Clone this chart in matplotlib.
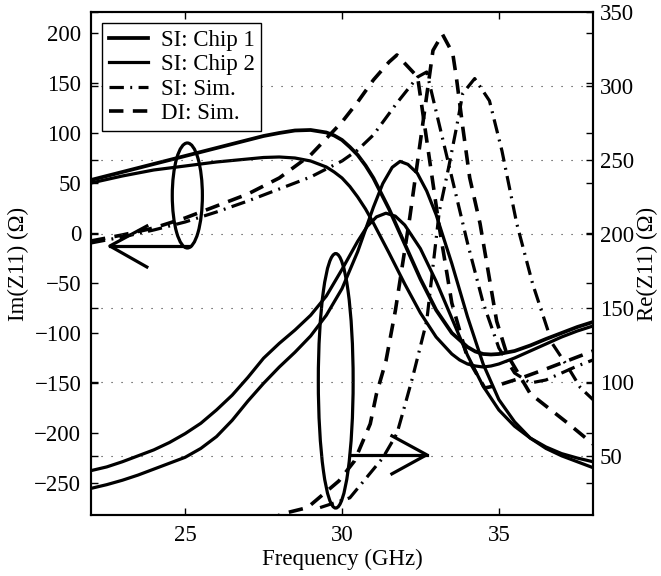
import matplotlib
matplotlib.use("Agg")
import matplotlib.pyplot as plt
from matplotlib.patches import Ellipse

plt.rcParams['font.family'] = ['Liberation Serif', 'DejaVu Serif']
plt.rcParams['font.size'] = 16.5

# measured chips, Im(Z11)
f_im1 = [22, 23, 24, 25, 26, 27, 27.5, 28, 28.5, 29, 29.5, 29.75, 30, 30.25, 30.5,
         30.75, 31, 31.5, 32, 32.5, 33, 33.5, 34, 34.25, 34.5, 34.75, 35, 35.5,
         36, 36.5, 37, 37.5, 38]
im_chip1 = [53, 61, 69, 77, 85, 93, 97, 100, 102.5, 103, 100.5, 97.5, 93, 86, 78,
            67.5, 55, 24, -11, -46, -77, -100, -114, -118.5, -121, -121.5, -121, -118,
            -112.5, -106, -100, -94, -89]
f_im2 = [22, 23, 24, 25, 26, 27, 27.5, 28, 28.5, 29, 29.5, 29.75, 30, 30.25, 30.5,
         30.75, 31, 31.5, 32, 32.5, 33, 33.5, 33.75, 34, 34.25, 34.5, 34.75, 35,
         35.5, 36, 36.5, 37, 37.5, 38]
im_chip2 = [50, 57, 63, 67, 71, 74, 75.5, 76, 75, 72, 66, 61, 55, 46.5, 36,
            24, 10, -20, -51, -80, -104, -121, -127, -131, -133, -134, -133, -131,
            -125, -118, -111, -104, -98, -93]

# measured chips, Re(Z11)
f_re1 = [22, 22.5, 23, 23.5, 24, 24.5, 25, 25.5, 26, 26.5, 27, 27.5, 28, 28.5, 29,
         29.5, 30, 30.5, 31, 31.3, 31.6, 31.85, 32.1, 32.4, 32.7, 33, 33.5, 34,
         34.5, 35, 35.5, 36, 36.5, 37, 37.5, 38]
re_chip1 = [28, 30.5, 33.5, 37, 41, 45, 49, 55, 63, 74, 87, 99, 110, 120, 131,
            145, 163, 188, 218, 234, 245, 249, 247, 241, 229, 213, 180, 144,
            112, 88, 73, 62, 55, 50, 46, 42]
f_re2 = [22, 22.5, 23, 23.5, 24, 24.5, 25, 25.5, 26, 26.5, 27, 27.5, 28, 28.5, 29,
         29.5, 30, 30.5, 30.8, 31.1, 31.4, 31.7, 32, 32.5, 33, 33.5, 34, 34.5,
         35, 35.5, 36, 36.5, 37, 37.5, 38]
re_chip2 = [40, 42.5, 46, 50, 54, 59, 65, 72, 81, 91, 103, 116, 126, 135, 145,
            158, 176, 195, 205, 211.5, 214, 212, 206, 190, 168, 143, 118, 97,
            81, 70, 62, 56, 51.5, 48.5, 46]

# simulations (coarse points)
f_si_im = [22, 23, 24, 25, 26, 27, 28, 29, 30, 30.5, 31, 31.75, 32.41, 32.7,
           33.65, 34, 34.5, 35, 35.5, 36, 36.5, 37, 37.5, 38]
im_si_sim = [-10, -4, 3, 11, 21, 32, 44, 56, 72, 83, 98, 130, 156, 161,
             36, -10, -70, -115, -140, -150, -147, -140, -133, -127]
f_di_im = [22, 23, 24, 25, 26, 27, 28, 29, 30, 30.5, 31, 31.5, 31.75, 32.41,
           33.1, 33.5, 34, 34.55, 35, 35.8, 36.5, 37.5, 38]
im_di_sim = [-8, -2, 5, 15, 27, 39, 55, 78, 111, 131, 153, 171, 178, 156,
             6, -70, -125, -155, -152, -144, -136, -124, -118]
f_si_re = [29.3, 30.25, 31.3, 31.75, 31.95, 32.25, 32.7, 33.1, 33.4, 33.65, 33.85,
           34.23, 34.7, 35.1, 35.57, 36.08, 36.7, 37.2, 37.6, 38]
re_si_sim = [15, 21.6, 48.6, 65, 80, 103, 141, 215, 245, 272, 295,
             305, 290, 256, 207, 166, 126, 110, 96, 88]
f_di_re = [27.6, 28.1, 28.9, 29.9, 30.4, 30.9, 31.1, 31.4, 31.7, 32.16, 32.9, 33.2,
           33.53, 33.65, 33.85, 34.07, 34.4, 34.93, 35.25, 36, 37.2, 38]
re_di_sim = [6, 10.8, 15, 33, 46.6, 71.6, 92, 114, 148, 211, 324, 335,
             322, 305, 272, 238, 207, 141, 119, 92, 72, 58]

legend_labels = ['SI: Chip 1', 'SI: Chip 2', 'SI: Sim.', 'DI: Sim.']

fig = plt.figure(figsize=(6.61, 5.76), dpi=100)
ax = fig.add_axes([0.1377, 0.1059, 0.7594, 0.8733])
ax2 = ax.twinx()

lw = 2.3
dash = (0, (4, 2.6))
dashdot = (0, (4.5, 2, 0.6, 2))

h1, = ax.plot(f_im1, im_chip1, 'k-', lw=lw + 0.4)
h2, = ax.plot(f_im2, im_chip2, 'k-', lw=lw)
h3, = ax.plot(f_si_im, im_si_sim, color='k', ls=dashdot, lw=lw)
h4, = ax.plot(f_di_im, im_di_sim, color='k', ls=dash, lw=lw + 0.3)
ax2.plot(f_re1, re_chip1, 'k-', lw=lw)
ax2.plot(f_re2, re_chip2, 'k-', lw=lw)
ax2.plot(f_si_re, re_si_sim, color='k', ls=dashdot, lw=lw)
ax2.plot(f_di_re, re_di_sim, color='k', ls=dash, lw=lw + 0.3)

ax.set_xlim(22, 38)
ax.set_ylim(-282, 221)
ax2.set_ylim(10, 350)
ax.set_xticks([25, 30, 35])
ax.set_yticks(range(-250, 201, 50))
ax2.set_yticks(range(50, 351, 50))

ax.tick_params(direction='in', length=5, width=1, top=True, right=True, pad=7)
ax2.tick_params(direction='in', length=5, width=1, left=True, pad=5)
for a in (ax, ax2):
    for s in a.spines.values():
        s.set_linewidth(1.5)

ax2.grid(True, linestyle=(0, (1, 8)), color='0.2', lw=0.8)

ax.set_xlabel('Frequency (GHz)', labelpad=2)
ax.set_ylabel('Im(Z11) (\u03a9)', labelpad=4)
ax2.set_ylabel('Re(Z11) (\u03a9)', labelpad=2)

# annotation: ellipse + arrow for Im (left) curves
ax.add_patch(Ellipse((25.07, 37.5), 0.96, 105, fill=False, ec='k', lw=lw))
ax.plot([25.15, 22.6], [-13, -13], 'k-', lw=lw)
ax.plot([23.78, 22.6, 23.78], [7, -13, -34], 'k-', lw=lw)

# annotation: ellipse + arrow for Re (right) curves
ax2.add_patch(Ellipse((29.8, 100.7), 1.11, 172, fill=False, ec='k', lw=lw))
ax2.plot([30.25, 32.7], [50.7, 50.7], 'k-', lw=lw)
ax2.plot([31.59, 32.7, 31.59], [63.5, 50.7, 37.8], 'k-', lw=lw)

leg = ax2.legend([h1, h2, h3, h4], legend_labels, loc='upper left',
                 bbox_to_anchor=(0.022, 0.978), borderaxespad=0, fancybox=False,
                 edgecolor='k', framealpha=1, handlelength=1.7, handletextpad=0.55,
                 labelspacing=0.15, borderpad=0.3)
leg.get_frame().set_linewidth(1.0)

fig.savefig('out.png', dpi=100)
